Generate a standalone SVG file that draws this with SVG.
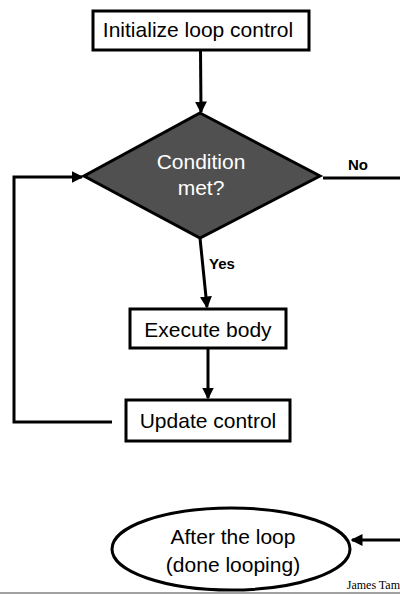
<svg xmlns="http://www.w3.org/2000/svg" width="400" height="595" viewBox="0 0 400 595">
<style>
.box{fill:#fff;stroke:#000;stroke-width:3}
.t{font-family:"Liberation Sans",Arial,sans-serif;font-size:21px;text-anchor:middle;fill:#000}
.w{fill:#fff}
.lbl{font-family:"Liberation Sans",Arial,sans-serif;font-size:15px;font-weight:bold;fill:#000}
.c{fill:none;stroke:#000;stroke-width:3}
</style>
<defs>
<marker id="ah" markerWidth="4" markerHeight="4" refX="3.5" refY="2" orient="auto" markerUnits="strokeWidth">
<path d="M0,0 L4,2 L0,4 Z" fill="#000"/>
</marker>
</defs>
<rect width="400" height="595" fill="#fff"/>
<g id="connectors">
<line class="c" x1="200.5" y1="50" x2="201" y2="112" marker-end="url(#ah)"/>
<line class="c" x1="200" y1="238" x2="207" y2="307" marker-end="url(#ah)"/>
<line class="c" x1="208" y1="348" x2="208" y2="398" marker-end="url(#ah)"/>
<polyline class="c" points="112,422 14,422 14,177 82,177" marker-end="url(#ah)"/>
<line class="c" x1="323" y1="178" x2="400" y2="178"/>
<line class="c" x1="400" y1="540" x2="352" y2="540" marker-end="url(#ah)"/>
<text class="lbl" x="348" y="170">No</text>
<text class="lbl" x="209" y="269">Yes</text>
</g>
<g id="init">
<rect class="box" x="93" y="11" width="216" height="39"/>
<text class="t" x="198" y="37">Initialize loop control</text>
</g>
<g id="cond">
<polygon points="200,113 320,176 200,238 84,176" fill="#505050" stroke="#000" stroke-width="3"/>
<text class="t w" x="201" y="169">Condition</text>
<text class="t w" x="201" y="195">met?</text>
</g>
<g id="exec">
<rect class="box" x="130" y="309" width="156" height="39"/>
<text class="t" x="208" y="337">Execute body</text>
</g>
<g id="update">
<rect class="box" x="126" y="400" width="164" height="41"/>
<text class="t" x="208" y="428">Update control</text>
</g>
<g id="after">
<ellipse cx="231" cy="549" rx="119" ry="41" fill="#fff" stroke="#000" stroke-width="3"/>
<text class="t" x="233" y="544">After the loop</text>
<text class="t" x="233" y="572">(done looping)</text>
</g>
<text x="400" y="589" font-family="'Liberation Serif','Times New Roman',serif" font-size="12" text-anchor="end" fill="#000">James Tam</text>
<line x1="0" y1="593" x2="400" y2="593" stroke="#444" stroke-width="1"/>
</svg>
